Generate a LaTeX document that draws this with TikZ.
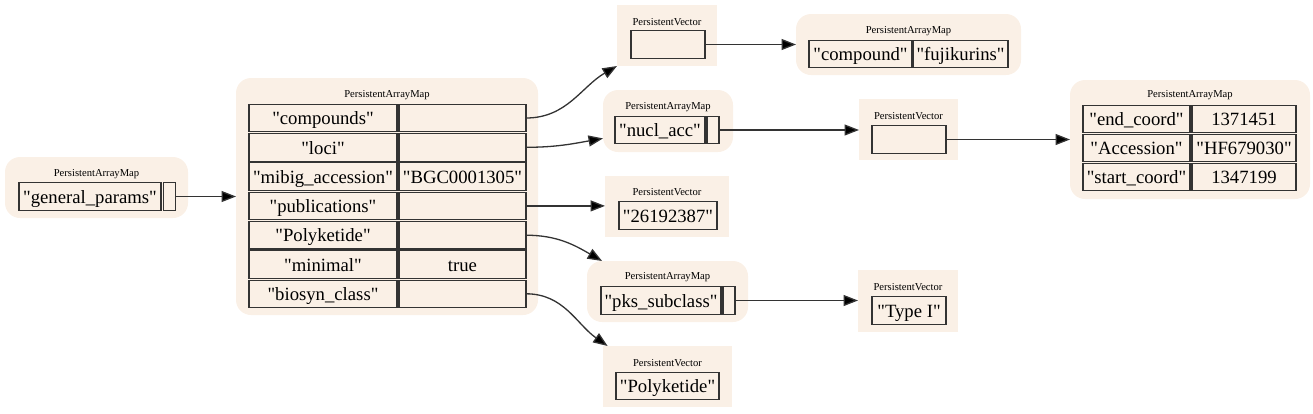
\documentclass[tikz,border=0pt]{standalone}
\usepackage{fontspec}
\setmainfont{Liberation Serif}[Ligatures=TeXOff]
\usepackage{tikz}
\usetikzlibrary{arrows.meta}
\definecolor{nodeBack}{HTML}{FAF0E6}
\definecolor{lineColor}{HTML}{333333}
\newcommand{\cellFont}{\fontsize{18.7pt}{20pt}\selectfont}
\newcommand{\titleFont}{\fontsize{10.6pt}{12pt}\selectfont}
\tikzstyle{graph} = [x = 1pt, y = -1pt]
\tikzstyle{mapBack} = [fill=nodeBack, rounded corners = 15pt, inner sep = 0, outer sep = 0]
\tikzstyle{vectorBack} = [fill=nodeBack, inner sep = 0, outer sep = 0]
\tikzstyle{cellStyle} = [draw=lineColor, fill=nodeBack, line width = 1.1pt, inner sep = 0, outer sep = 0, font=\cellFont, text height = 16pt, text depth = 2.5pt, minimum height = 27.5pt]
\tikzstyle{cellText} = [cellStyle, draw=none, fill=none]
\tikzstyle{titleText} = [font=\titleFont, inner sep = 0]
\tikzstyle{refLine} = [line width = 1.3pt, draw=lineColor, -{Triangle[length = 14.5pt, width = 11pt, fill=black]}]
\newcommand{\backBox}[6]{\node [#1, minimum width = #5, minimum height = #6] (#2) at (#3, #4) {};}
\newcommand{\boxTitle}[4]{\node [titleText] (#1) at (#2, #3) {#4};}
\newcommand{\cellNode}[5]{\node [cellStyle, minimum width = #4] (#1) at (#2, #3) {#5};}

\begin{document}
\begin{tikzpicture}[graph]
  \useasboundingbox (0, 0) rectangle (1313, 413);
  % general params
  \backBox{mapBack}{paramsMap}{96.5}{187.5}{183}{61}
  \boxTitle{paramsTitle}{96.5}{174}{PersistentArrayMap}
  \cellNode{paramsKey}{90}{196.5}{142}{"general\_params"}
  \cellNode{paramsRef}{169.5}{196.5}{12}{}
  % main map
  \backBox{mapBack}{mainMap}{387}{196.5}{302}{237}
  \boxTitle{mainTitle}{387}{95}{PersistentArrayMap}
  \foreach \row/\key/\val in {1/compounds/, 2/loci/, 3/mibig/"BGC0001305", 4/pubs/, 5/polyketide/, 6/minimal/true, 7/biosyn/} {
    \pgfmathsetmacro{\var}{118 + 29.3 * (\row - 1)}
    \cellNode{key\key}{323}{\var}{148}{}
    \cellNode{val\key}{462.5}{\var}{127}{\val}
  }
  \node [cellText] at (keycompounds) {"compounds"};
  \node [cellText] at (keyloci) {"loci"};
  \node [cellText] at (keymibig) {"mibig\_accession"};
  \node [cellText] at (keypubs) {"publications"};
  \node [cellText] at (keypolyketide) {"Polyketide"};
  \node [cellText] at (keyminimal) {"minimal"};
  \node [cellText] at (keybiosyn) {"biosyn\_class"};
  % compounds
  \backBox{vectorBack}{compVec}{667}{35.5}{100}{61}
  \boxTitle{compVecTitle}{667}{22}{PersistentVector}
  \cellNode{compVecCell}{668}{44.5}{74}{}
  \backBox{mapBack}{compMap}{908.5}{44.5}{225}{61}
  \boxTitle{compMapTitle}{908.5}{31}{PersistentArrayMap}
  \cellNode{compKey}{860.5}{54}{103}{"compound"}
  \cellNode{compVal}{960.5}{54}{95}{"fujikurins"}
  % loci
  \backBox{mapBack}{nuclMap}{668}{121}{130}{62}
  \boxTitle{nuclTitle}{668}{107}{PersistentArrayMap}
  \cellNode{nuclKey}{660}{130}{90}{"nucl\_acc"}
  \cellNode{nuclRef}{713}{130}{12}{}
  \backBox{vectorBack}{nuclVec}{908.5}{129.5}{99}{61}
  \boxTitle{nuclVecTitle}{908.5}{116}{PersistentVector}
  \cellNode{nuclVecCell}{909}{139.5}{74}{}
  \backBox{mapBack}{locusMap}{1190}{139.5}{240}{119}
  \boxTitle{locusTitle}{1190}{95}{PersistentArrayMap}
  \cellNode{endKey}{1136.5}{119}{107}{"end\_coord"}
  \cellNode{endVal}{1244}{119}{104}{1371451}
  \cellNode{accKey}{1136.5}{148}{107}{"Accession"}
  \cellNode{accVal}{1244}{148}{104}{"HF679030"}
  \cellNode{startKey}{1136.5}{177}{107}{"start\_coord"}
  \cellNode{startVal}{1244}{177}{104}{1347199}
  % publications
  \backBox{vectorBack}{pubVec}{667}{206.5}{124}{61}
  \boxTitle{pubTitle}{667}{192}{PersistentVector}
  \cellNode{pubCell}{668}{215.5}{98}{"26192387"}
  % polyketide
  \backBox{mapBack}{pksMap}{667.5}{291.5}{161}{61}
  \boxTitle{pksTitle}{667.5}{277}{PersistentArrayMap}
  \cellNode{pksKey}{661}{300.5}{120}{"pks\_subclass"}
  \cellNode{pksRef}{729}{300.5}{12}{}
  \backBox{vectorBack}{typeVec}{908}{301}{100}{62}
  \boxTitle{typeTitle}{908}{287}{PersistentVector}
  \cellNode{typeCell}{909}{310.5}{74}{"Type I"}
  % biosyn class
  \backBox{vectorBack}{classVec}{667.5}{376.5}{129}{61}
  \boxTitle{classTitle}{667.5}{363}{PersistentVector}
  \cellNode{classCell}{667.5}{386}{103}{"Polyketide"}
  % references
  \draw [refLine] (paramsRef.east) -- (paramsRef.east -| mainMap.west);
  \draw [refLine] (valcompounds.east) to [out = 0, in = 210] (compVec.south west);
  \draw [refLine] (valloci.east) to [out = 0, in = 190] (nuclMap.195);
  \draw [refLine] (valpubs.east) -- (valpubs.east -| pubVec.west);
  \draw [refLine] (valpolyketide.east) to [out = 0, in = 150] (pksMap.155);
  \draw [refLine] (valbiosyn.east) to [out = 0, in = 145] (classVec.153);
  \draw [refLine] (compVecCell.east) -- (compVecCell.east -| compMap.west);
  \draw [refLine] (nuclRef.east) -- (nuclRef.east -| nuclVec.west);
  \draw [refLine] (nuclVecCell.east) -- (nuclVecCell.east -| locusMap.west);
  \draw [refLine] (pksRef.east) -- (pksRef.east -| typeVec.west);
\end{tikzpicture}
\end{document}
